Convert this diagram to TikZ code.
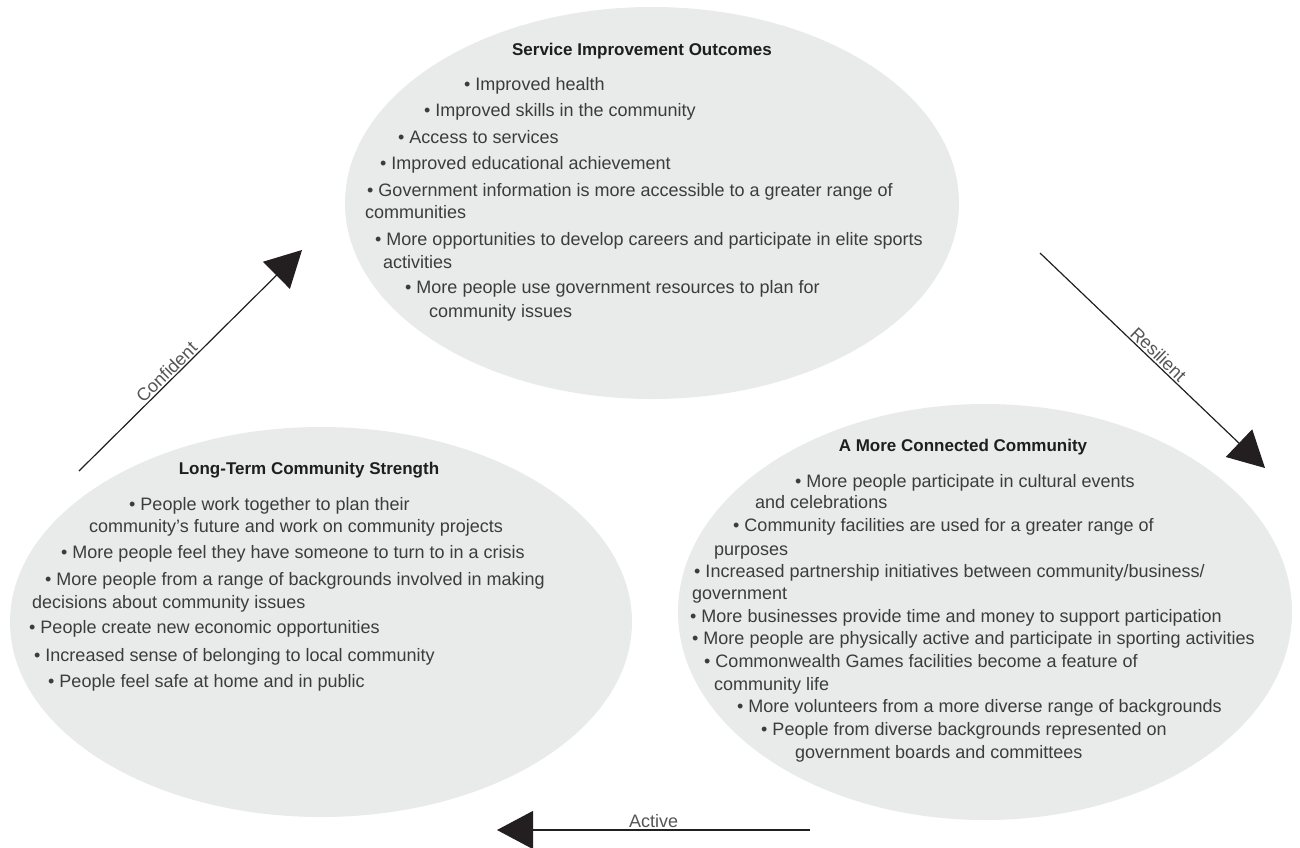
\documentclass[tikz,border=0pt]{standalone}
\usepackage{fontspec}
\setmainfont{Liberation Sans}
\usetikzlibrary{arrows.meta,shapes.geometric}
\definecolor{ellfill}{RGB}{233,234,234}
\definecolor{bodytxt}{RGB}{60,60,60}
\definecolor{titletxt}{RGB}{30,30,30}
\definecolor{lbltxt}{RGB}{85,85,85}
\definecolor{arrowblk}{RGB}{35,31,32}
\begin{document}
\begin{tikzpicture}[x=1pt,y=-1pt,
  bubble/.style={ellipse, fill=ellfill, inner sep=0pt},
  ttl/.style={anchor=base, font=\fontsize{17}{20}\selectfont\bfseries, text=titletxt, inner sep=0pt},
  ln/.style={anchor=base west, font=\fontsize{18}{22}\selectfont, text=bodytxt, inner sep=0pt},
  flow/.style={draw=arrowblk, line width=1.2pt, -{Triangle[length=36pt,width=38pt]}},
  lbl/.style={font=\fontsize{18}{22}\selectfont, text=lbltxt, inner sep=1.5pt}]
\useasboundingbox (0,0) rectangle (1300,847);
% bubbles
\node[bubble, minimum width=614pt, minimum height=392pt] (sio) at (652,203) {};
\node[bubble, minimum width=622pt, minimum height=390pt] (lts) at (321,622) {};
\node[bubble, minimum width=614pt, minimum height=416pt] (mcc) at (985,612) {};
% top bubble text
\node[ttl] (t0) at (642,55) {Service Improvement Outcomes};
\node[ln] (t1) at (464,90) {• Improved health};
\node[ln] (t2) at (424,116) {• Improved skills in the community};
\node[ln] (t3) at (398,143) {• Access to services};
\node[ln] (t4) at (380,169) {• Improved educational achievement};
\node[ln] (t5) at (367,196) {• Government information is more accessible to a greater range of};
\node[ln] (t6) at (365,218) {communities};
\node[ln] (t7) at (375,245) {• More opportunities to develop careers and participate in elite sports};
\node[ln] (t8) at (383,268) {activities};
\node[ln] (t9) at (405,293) {• More people use government resources to plan for};
\node[ln] (t10) at (429,317) {community issues};
% left bubble text
\node[ttl] (l0) at (309,474) {Long-Term Community Strength};
\node[ln] (l1) at (129,510) {• People work together to plan their};
\node[ln] (l2) at (89,532) {community’s future and work on community projects};
\node[ln] (l3) at (61,558) {• More people feel they have someone to turn to in a crisis};
\node[ln] (l4) at (45,585) {• More people from a range of backgrounds involved in making};
\node[ln] (l5) at (32,608) {decisions about community issues};
\node[ln] (l6) at (29,633) {• People create new economic opportunities};
\node[ln] (l7) at (34,661) {• Increased sense of belonging to local community};
\node[ln] (l8) at (48,687) {• People feel safe at home and in public};
% right bubble text
\node[ttl] (r0) at (963,451) {A More Connected Community};
\node[ln] (r1) at (795,487) {• More people participate in cultural events};
\node[ln] (r2) at (755,508) {and celebrations};
\node[ln] (r3) at (733,531) {• Community facilities are used for a greater range of};
\node[ln] (r4) at (714,555) {purposes};
\node[ln] (r5) at (694,577) {• Increased partnership initiatives between community/business/};
\node[ln] (r6) at (692,599) {government};
\node[ln] (r7) at (690,622) {• More businesses provide time and money to support participation};
\node[ln] (r8) at (692,644) {• More people are physically active and participate in sporting activities};
\node[ln] (r9) at (704,667) {• Commonwealth Games facilities become a feature of};
\node[ln] (r10) at (714,690) {community life};
\node[ln] (r11) at (737,712) {• More volunteers from a more diverse range of backgrounds};
\node[ln] (r12) at (761,735) {• People from diverse backgrounds represented on};
\node[ln] (r13) at (795,758) {government boards and committees};
% arrows
\coordinate (cfS) at (79,471);
\coordinate (cfE) at (302,250);
\coordinate (rsS) at (1040,253);
\coordinate (rsE) at (1265,468);
\coordinate (acS) at (810,830);
\coordinate (acE) at (497,830);
\draw[flow] (cfS) -- node[lbl, pos=0.42, sloped, above] (lcf) {Confident} (cfE);
\draw[flow] (rsS) -- node[lbl, pos=0.5, sloped, above] (lrs) {Resilient} (rsE);
\draw[flow] (acS) -- node[lbl, pos=0.5, above] (lac) {Active} (acE);
\end{tikzpicture}
\end{document}
